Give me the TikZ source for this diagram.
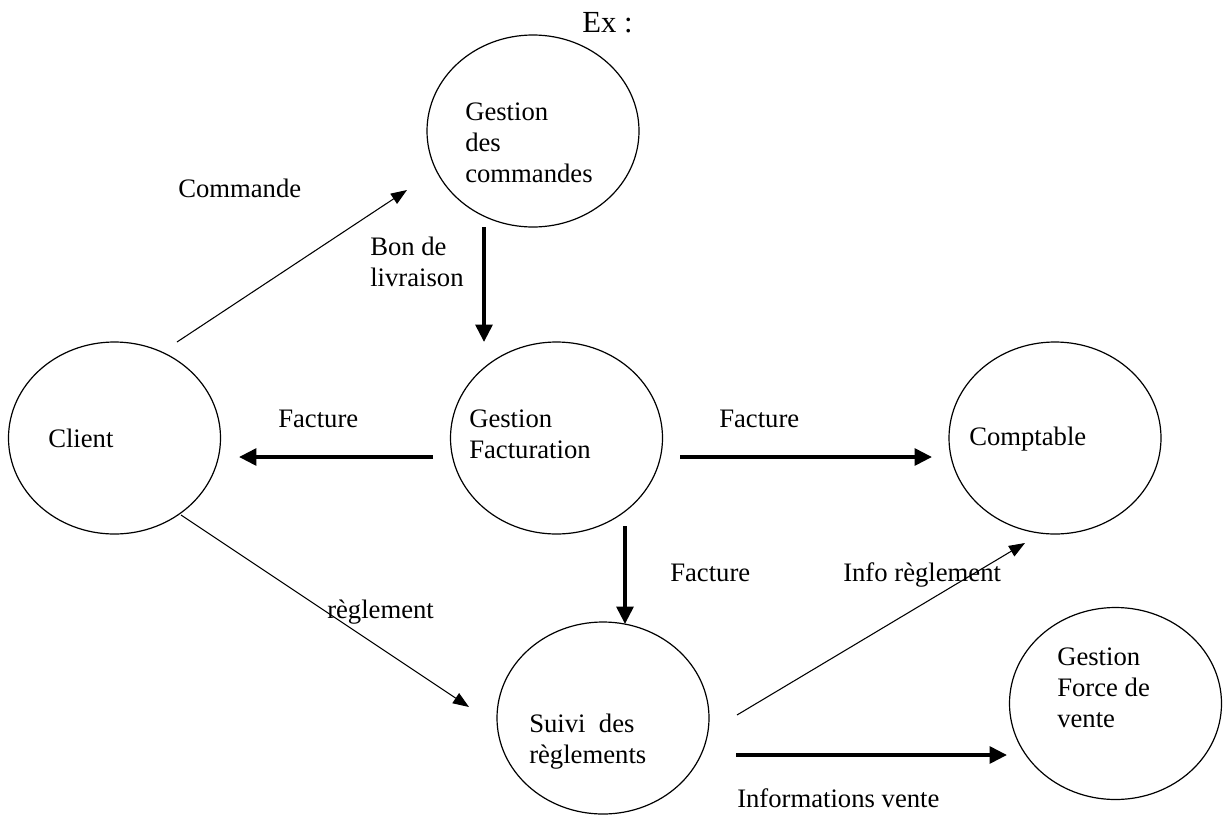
\documentclass[tikz,border=0pt]{standalone}
\usepackage{fontspec}
\setmainfont{Liberation Serif}
\usetikzlibrary{shapes.geometric,arrows.meta}

\tikzset{
  bubble/.style={draw, ellipse, line width=0.9pt, minimum width=159pt, minimum height=144pt, inner sep=0pt},
  txt/.style={anchor=base west, inner sep=0pt, align=left, font=\fontsize{20}{23}\selectfont},
  flowthin/.style={line width=0.8pt, -{Triangle[length=12pt,width=9pt]}},
  flowthick/.style={line width=2.8pt, -{Triangle[length=13pt,width=12.5pt]}}
}

\begin{document}
\begin{tikzpicture}[x=0.75pt,y=0.75pt,yscale=-1,xscale=1]
            \useasboundingbox (0,0) rectangle (1224,814);

            %Shape: Ellipse [id:cmd]
            \node [bubble] (cmd) at (533,131) {};
            %Shape: Ellipse [id:client]
            \node [bubble] (client) at (114.5,438) {};
            %Shape: Ellipse [id:fact]
            \node [bubble] (fact) at (556.5,438) {};
            %Shape: Ellipse [id:compta]
            \node [bubble] (compta) at (1055,438) {};
            %Shape: Ellipse [id:suivi]
            \node [bubble] (suivi) at (603,718) {};
            %Shape: Ellipse [id:force]
            \node [bubble] (force) at (1115.5,703.5) {};

            % free ends of the flows
            \coordinate (clientOut) at (177,342);
            \coordinate (cmdIn) at (407,190);
            \coordinate (cmdOut) at (484,227);
            \coordinate (factIn) at (484,342);
            \coordinate (factOutL) at (433,457);
            \coordinate (clientIn) at (239,457);
            \coordinate (factOutR) at (680,457);
            \coordinate (comptaIn) at (932,457);
            \coordinate (factOutD) at (625,526);
            \coordinate (suiviIn) at (625,624);
            \coordinate (clientOut2) at (181,515);
            \coordinate (suiviIn2) at (469,707);
            \coordinate (suiviOut) at (737,715);
            \coordinate (comptaIn2) at (1025,543);
            \coordinate (suiviOut2) at (736,755);
            \coordinate (forceIn) at (1007,755);

            %Straight Lines [id:commande]
            \draw [flowthin] (clientOut) -- (cmdIn) ;
            %Straight Lines [id:livraison]
            \draw [flowthick] (cmdOut) -- (factIn) ;
            %Straight Lines [id:factureL]
            \draw [flowthick] (factOutL) -- (clientIn) ;
            %Straight Lines [id:factureR]
            \draw [flowthick] (factOutR) -- (comptaIn) ;
            %Straight Lines [id:factureD]
            \draw [flowthick] (factOutD) -- (suiviIn) ;
            %Straight Lines [id:reglement]
            \draw [flowthin] (clientOut2) -- (suiviIn2) ;
            %Straight Lines [id:inforeglement]
            \draw [flowthin] (suiviOut) -- (comptaIn2) ;
            %Straight Lines [id:infovente]
            \draw [flowthick] (suiviOut2) -- (forceIn) ;

            % Text Node (base = last line)
            \node [txt, font=\fontsize{23}{27}\selectfont] (ex) at (582,32) {Ex :};
            % Text Node
            \node [txt] (cmdTxt) at (465,182) {Gestion\\des\\commandes};
            % Text Node
            \node [txt] (clientTxt) at (48,447) {Client};
            % Text Node
            \node [txt] (factTxt) at (469,458) {Gestion\\Facturation};
            % Text Node
            \node [txt] (comptaTxt) at (969,445) {Comptable};
            % Text Node
            \node [txt] (suiviTxt) at (529,763) {Suivi\ \ des\\règlements};
            % Text Node
            \node [txt] (forceTxt) at (1057,727) {Gestion\\Force de\\vente};
            % Text Node
            \node [txt] (lblCommande) at (178,197) {Commande};
            % Text Node
            \node [txt] (lblLivraison) at (370,286) {Bon de\\livraison};
            % Text Node
            \node [txt] (lblFactureL) at (278,427) {Facture};
            % Text Node
            \node [txt] (lblFactureR) at (719,427) {Facture};
            % Text Node
            \node [txt] (lblFactureD) at (670,581) {Facture};
            % Text Node
            \node [txt] (lblReglement) at (327,618) {règlement};
            % Text Node
            \node [txt] (lblInfoRegl) at (843,581) {Info règlement};
            % Text Node
            \node [txt] (lblInfoVente) at (737,807) {Informations vente};

\end{tikzpicture}
\end{document}
